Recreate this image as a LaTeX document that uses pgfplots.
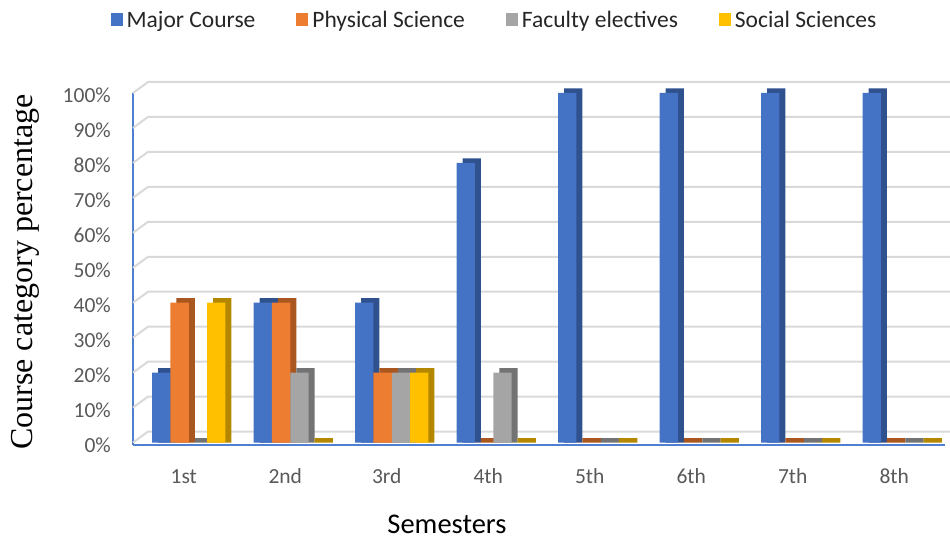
\documentclass[border=0pt]{standalone}
\usepackage{pgfplots}
\pgfplotsset{compat=1.18}
\usepackage{pgfplotstable}
\usepackage{fontspec}
\setmainfont{Carlito}
\newfontfamily\serifrm{Liberation Serif}

\definecolor{major}{HTML}{4472C4}
\definecolor{majorside}{HTML}{2F528F}
\definecolor{phys}{HTML}{ED7D31}
\definecolor{physside}{HTML}{A9561F}
\definecolor{fac}{HTML}{A5A5A5}
\definecolor{facside}{HTML}{737373}
\definecolor{soc}{HTML}{FFC000}
\definecolor{socside}{HTML}{B38700}
\definecolor{gridc}{HTML}{D9D9D9}
\definecolor{ticktext}{HTML}{595959}
\definecolor{axisblue}{HTML}{4F7FD0}

% share of each course category per semester (%)
\pgfplotstableread{
sem major phys fac soc
0   20    40   0   40
1   40    40   20  0
2   40    20   20  20
3   80    0    20  0
4   100   0    0   0
5   100   0    0   0
6   100   0    0   0
7   100   0    0   0
}\semdata

\pgfplotsset{
  front/.style={ybar, bar width=18.3pt, draw=none, fill=#1,
    legend image code/.code={\fill[fill=#1] (0pt,-6.5pt) rectangle (12pt,6.5pt);
      \path (15pt,0pt);}},
  side/.style={ybar, bar width=18.3pt, draw=none, fill=#1, forget plot},
}

\begin{document}
\begin{tikzpicture}
\useasboundingbox (0,0) rectangle (950pt,540pt);
\begin{axis}[
  at={(133pt,95pt)}, anchor=south west,
  scale only axis, width=812pt, height=352pt,
  xmin=-0.5, xmax=7.5, ymin=-0.7, ymax=100,
  clip=false,
  axis x line*=bottom, axis y line*=left,
  axis line style={draw=axisblue, line width=1.8pt, -},
  major tick length=0pt,
  xtick={0,...,7},
  xticklabels={1st,2nd,3rd,4th,5th,6th,7th,8th},
  ytick={0,10,...,100},
  yticklabels={0\%,10\%,20\%,30\%,40\%,50\%,60\%,70\%,80\%,90\%,100\%},
  tick label style={font=\fontsize{21.5}{24}\selectfont, text=ticktext, inner sep=0pt},
  xticklabel style={anchor=base, yshift=-39pt},
  yticklabel style={anchor=base east, xshift=-22pt, yshift=-10pt},
  xlabel={Semesters},
  xlabel style={at={(axis description cs:0.3867,-0.252)}, anchor=base,
    font=\fontsize{28.5}{30}\selectfont, text=black, inner sep=0pt},
  ylabel={\serifrm Course category percentage},
  ylabel style={at={(axis description cs:-0.1232,0.4915)}, anchor=base,
    font=\fontsize{32}{34}\selectfont, text=black, inner sep=0pt},
  legend columns=4,
  legend style={at={(axis description cs:0.4446,1.2074)}, anchor=center,
    draw=none, fill=none, inner sep=0pt,
    font=\fontsize{23.5}{26}\selectfont, text=black!85,
    nodes={inner xsep=1pt, inner ysep=1pt},
    /tikz/every even column/.append style={column sep=40pt}},
]
% back wall grid lines with their slanted joins to the front axis
\pgfplotsinvokeforeach{0,10,...,100}{
  \draw[gridc, line width=2pt] (axis cs:-0.5,#1) -- ++(15pt,11pt)
    -- ([xshift=15pt,yshift=11pt]axis cs:7.55,#1);
}
% each series: darker depth face first, then the front face
\addplot[side=majorside, bar shift=-16.45pt] table[x=sem, y expr=\thisrow{major}+1.3]{\semdata};
\addplot[front=major, bar shift=-22.45pt] table[x=sem, y=major]{\semdata};
\addplot[side=physside, bar shift=1.85pt] table[x=sem, y expr=\thisrow{phys}+1.3]{\semdata};
\addplot[front=phys, bar shift=-4.15pt] table[x=sem, y=phys]{\semdata};
\addplot[side=facside, bar shift=20.15pt] table[x=sem, y expr=\thisrow{fac}+1.3]{\semdata};
\addplot[front=fac, bar shift=14.15pt] table[x=sem, y=fac]{\semdata};
\addplot[side=socside, bar shift=38.45pt] table[x=sem, y expr=\thisrow{soc}+1.3]{\semdata};
\addplot[front=soc, bar shift=32.45pt] table[x=sem, y=soc]{\semdata};
\legend{Major Course, Physical Science, Faculty electives, Social Sciences}
\end{axis}
\end{tikzpicture}
\end{document}
